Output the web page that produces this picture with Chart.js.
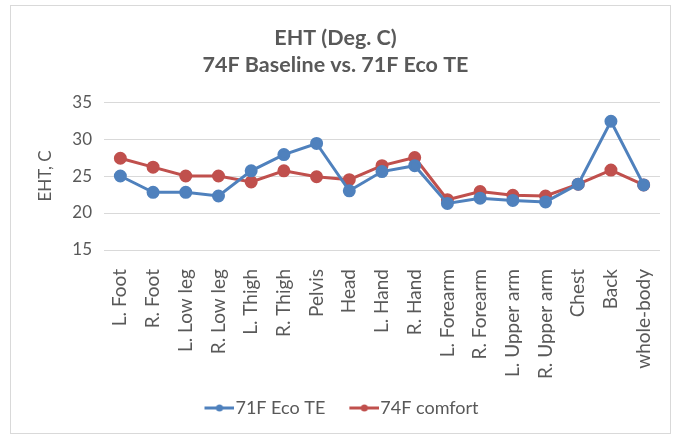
<!DOCTYPE html>
<html>
<head>
<meta charset="utf-8">
<script src="https://cdn.jsdelivr.net/npm/chart.js@4"></script>
<style>
  body { margin: 0; background: #fff; }
  #box { position: absolute; left: 10px; top: 5px; width: 659px; height: 427px; border: 1px solid #d9d9d9; }
</style>
</head>
<body>
<div id="box"><canvas id="chart" width="659" height="427"></canvas></div>
<script>
const categories = ['L. Foot', 'R. Foot', 'L. Low leg', 'R. Low leg', 'L. Thigh', 'R. Thigh', 'Pelvis', 'Head',
  'L. Hand', 'R. Hand', 'L. Forearm', 'R. Forearm', 'L. Upper arm', 'R. Upper arm', 'Chest', 'Back', 'whole-body'];
const ecoTE71 = [25.0, 22.8, 22.8, 22.3, 25.7, 27.9, 29.4, 23.0, 25.6, 26.4, 21.3, 22.0, 21.7, 21.5, 23.9, 32.4, 23.8];
const comfort74 = [27.4, 26.2, 25.0, 25.0, 24.2, 25.7, 24.9, 24.5, 26.4, 27.5, 21.8, 22.9, 22.4, 22.3, 23.9, 25.8, 23.8];
const yTicks = [15, 20, 25, 30, 35];

const BLUE = '#4f81bd';
const RED = '#c0504d';
const TEXT = '#595959';

// legend marker: line with a dot, like Excel
// (image is wider than the legend box so the line sits right next to the text)
function legendMarker(color) {
  const c = document.createElement('canvas');
  c.width = 50; c.height = 10;
  const g = c.getContext('2d');
  g.strokeStyle = color; g.lineWidth = 3;
  g.beginPath(); g.moveTo(20, 5); g.lineTo(50, 5); g.stroke();
  g.fillStyle = color;
  g.beginPath(); g.arc(35, 5, 3.5, 0, Math.PI * 2); g.fill();
  return c;
}

const ctx = document.getElementById('chart').getContext('2d');
new Chart(ctx, {
  type: 'line',
  data: {
    labels: categories,
    datasets: [
      {
        label: '71F Eco TE',
        data: ecoTE71,
        borderColor: BLUE,
        backgroundColor: BLUE,
        borderWidth: 3,
        pointRadius: 5,
        pointHoverRadius: 5,
        tension: 0
      },
      {
        label: '74F comfort',
        data: comfort74,
        borderColor: RED,
        backgroundColor: RED,
        borderWidth: 3,
        pointRadius: 5,
        pointHoverRadius: 5,
        tension: 0
      }
    ]
  },
  options: {
    responsive: false,
    animation: false,
    layout: { padding: { left: 0, right: 10, top: 0, bottom: 6 } },
    plugins: {
      title: {
        display: true,
        text: ['EHT (Deg. C)', '74F Baseline vs. 71F Eco TE'],
        color: TEXT,
        font: { family: 'Lato', size: 21.5, weight: 'bold', lineHeight: 1.28 },
        padding: { top: 18, bottom: 23 }
      },
      legend: {
        position: 'bottom',
        labels: {
          color: TEXT,
          font: { family: 'Lato', size: 18 },
          usePointStyle: true,
          pointStyleWidth: 34,
          padding: 12,
          generateLabels: (chart) => chart.data.datasets.map((ds, i) => ({
            text: ds.label,
            fontColor: TEXT,
            pointStyle: legendMarker(ds.borderColor),
            datasetIndex: i,
            hidden: false,
            lineWidth: 0
          }))
        }
      },
      tooltip: { enabled: false }
    },
    scales: {
      x: {
        offset: true,
        grid: { display: false },
        border: { display: false },
        afterFit: (axis) => { axis.height = 137; axis.paddingRight = 0; },
        ticks: {
          color: TEXT,
          font: { family: 'Lato', size: 19 },
          maxRotation: 90,
          minRotation: 90,
          autoSkip: false,
          padding: 11
        }
      },
      y: {
        min: 15,
        max: 35,
        afterBuildTicks: (axis) => { axis.ticks = yTicks.map(v => ({ value: v })); },
        afterFit: (axis) => { axis.width = 93; },
        grid: { color: '#d9d9d9', lineWidth: 1, drawTicks: false },
        border: { display: false },
        ticks: {
          color: TEXT,
          font: { family: 'Lato', size: 17 },
          padding: 12
        },
        title: {
          display: true,
          text: 'EHT, C',
          color: TEXT,
          font: { family: 'Lato', size: 17 },
          padding: { top: 24, bottom: 0 }
        }
      }
    }
  }
});
</script>
</body>
</html>
